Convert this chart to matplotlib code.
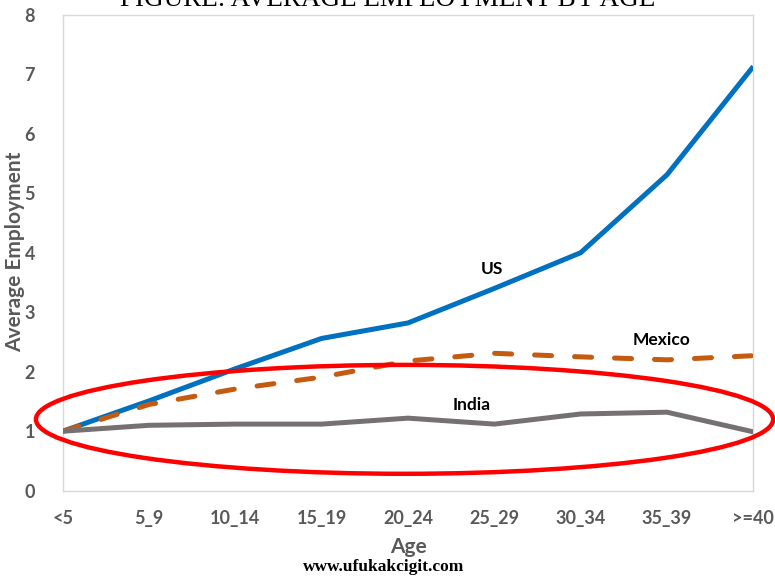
import matplotlib
matplotlib.use("Agg")
import matplotlib.pyplot as plt
from matplotlib.patches import Ellipse

# Average employment by firm age
AGE_GROUPS = ["<5", "5_9", "10_14", "15_19", "20_24", "25_29", "30_34", "35_39", ">=40"]
US = [1.00, 1.51, 2.05, 2.56, 2.82, 3.40, 4.00, 5.31, 7.13]
MEXICO = [1.00, 1.45, 1.71, 1.91, 2.18, 2.31, 2.25, 2.20, 2.27]
INDIA = [1.00, 1.10, 1.12, 1.12, 1.22, 1.12, 1.29, 1.32, 0.99]

BLUE = "#0070C0"
ORANGE = "#C55A11"
GRAY = "#767171"
TICK_GRAY = "#595959"

plt.rcParams["font.family"] = ["Lato", "DejaVu Sans"]

fig = plt.figure(figsize=(7.75, 5.76), dpi=100)
ax = fig.add_axes([0.0809, 0.148, 0.8911, 0.8265])

x = list(range(len(AGE_GROUPS)))
ax.plot(x, US, color=BLUE, lw=3.6, solid_capstyle="butt", zorder=3)
ax.plot(x, MEXICO, color=ORANGE, lw=3.6, dashes=(3.4, 4.6),
        dash_capstyle="round", zorder=3)
ax.plot(x, INDIA, color=GRAY, lw=3.6, solid_capstyle="butt", zorder=3)

ax.text(4.97, 3.72, "US", fontsize=12.5, fontweight="bold", ha="center", va="center")
ax.text(6.94, 2.53, "Mexico", fontsize=12.5, fontweight="bold", ha="center", va="center")
ax.text(4.74, 1.44, "India", fontsize=12.5, fontweight="bold", ha="center", va="center")

# highlight around the flat India series
ax.add_patch(Ellipse((3.96, 1.20), 8.54, 1.83, fill=False, edgecolor="#FF0000",
                     lw=3.2, clip_on=False, zorder=4))

ax.set_xlim(0, 8)
ax.set_ylim(0, 8)
ax.set_xticks(x)
ax.set_xticklabels(AGE_GROUPS)
ax.set_yticks(range(0, 9))
ax.tick_params(length=0, labelsize=13, labelcolor=TICK_GRAY)
ax.tick_params(axis="x", pad=14)
ax.tick_params(axis="y", pad=20)
for lbl in ax.get_xticklabels() + ax.get_yticklabels():
    lbl.set_fontweight("bold")
for sp in ax.spines.values():
    sp.set_color("#D9D9D9")
    sp.set_linewidth(1.0)

ax.set_xlabel("Age", fontsize=15, fontweight="bold", color=TICK_GRAY, labelpad=7)
fig.text(0.0195, 0.5625, "Average Employment", fontsize=15, fontweight="bold",
         color=TICK_GRAY, rotation=90, ha="center", va="center")

fig.text(0.5, 1.0, "FIGURE: AVERAGE EMPLOYMENT BY AGE", family="Liberation Serif",
         fontsize=19.5, ha="center", va="center")
fig.text(0.4955, 0.0155, "www.ufukakcigit.com", family="Liberation Serif",
         fontweight="bold", fontsize=12.5, ha="center", va="center")

fig.savefig("out.png", dpi=100)
